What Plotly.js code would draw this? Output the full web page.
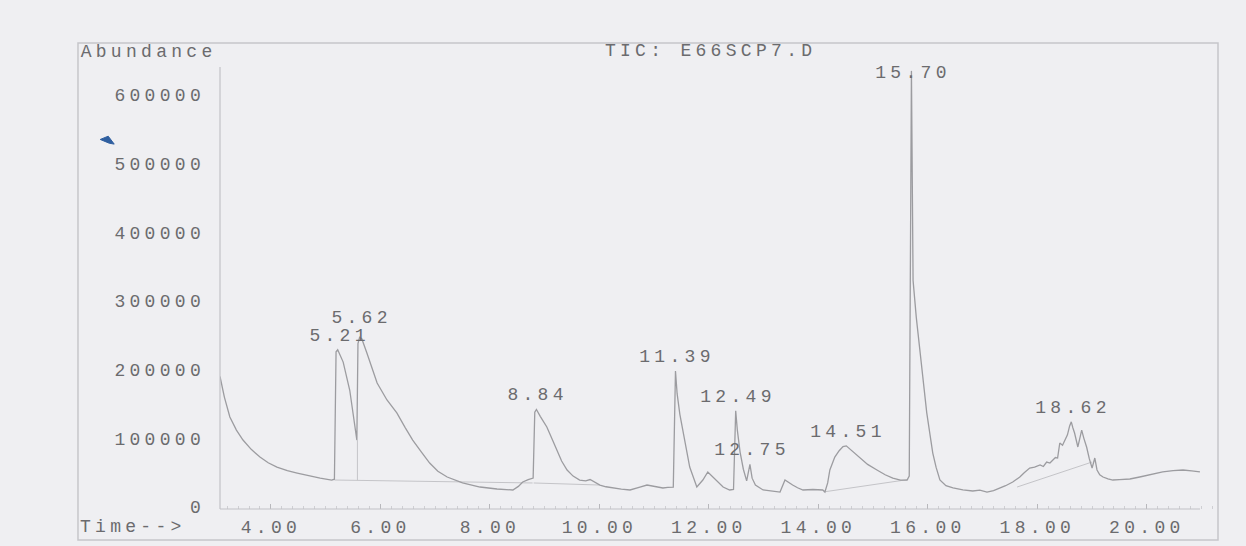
<!DOCTYPE html>
<html>
<head>
<meta charset="utf-8">
<script src="https://cdn.plot.ly/plotly-3.0.1.min.js"></script>
<style>
  html, body { margin: 0; padding: 0; background: #efeff2; }
  #chart { width: 1246px; height: 546px; }
  #chart svg text { letter-spacing: 4.3px; }
</style>
</head>
<body>
<div id="chart"></div>
<script>
// Retention time (min)
const retentionTime = [
  3.07, 3.15, 3.25, 3.37, 3.49, 3.64, 3.80, 3.95, 4.11, 4.30,
  4.48, 4.71, 4.90, 5.11, 5.16, 5.19, 5.22, 5.32, 5.44, 5.57,
  5.59, 5.62, 5.66, 5.75, 5.94, 6.12, 6.30, 6.45, 6.59, 6.75,
  6.90, 7.05, 7.22, 7.50, 7.82, 8.13, 8.42, 8.52, 8.60, 8.70,
  8.79, 8.82, 8.85, 8.92, 9.04, 9.13, 9.22, 9.31, 9.41, 9.52,
  9.64, 9.75, 9.83, 9.92, 10.01, 10.12, 10.25, 10.40, 10.56, 10.65,
  10.74, 10.87, 10.98, 11.08, 11.16, 11.25, 11.35, 11.39, 11.42, 11.47,
  11.53, 11.65, 11.78, 11.89, 11.98, 12.07, 12.16, 12.26, 12.38, 12.45,
  12.49, 12.52, 12.57, 12.63, 12.69, 12.72, 12.75, 12.79, 12.85, 12.99,
  13.15, 13.30, 13.39, 13.46, 13.53, 13.62, 13.72, 13.90, 14.08, 14.12,
  14.17, 14.21, 14.30, 14.38, 14.45, 14.51, 14.58, 14.67, 14.76, 14.90,
  15.07, 15.22, 15.36, 15.50, 15.62, 15.66, 15.70, 15.73, 15.79, 15.85,
  15.92, 15.98, 16.04, 16.09, 16.15, 16.22, 16.33, 16.46, 16.64, 16.82,
  16.95, 17.08, 17.20, 17.32, 17.42, 17.55, 17.62, 17.68, 17.76, 17.86,
  17.95, 18.05, 18.11, 18.17, 18.23, 18.28, 18.33, 18.37, 18.41, 18.46,
  18.50, 18.55, 18.59, 18.62, 18.65, 18.68, 18.74, 18.78, 18.81, 18.85,
  18.90, 18.95, 19.00, 19.05, 19.09, 19.14, 19.20, 19.29, 19.38, 19.50,
  19.69, 19.87, 20.05, 20.29, 20.48, 20.66, 20.82, 20.97
];
// Total ion current abundance
const abundance = [
  190000, 160000, 131000, 112000, 97500, 84000, 72800, 64500, 58200, 53000,
  49500, 45100, 42000, 39300, 40500, 226000, 229000, 211000, 170000, 97500,
  238000, 247000, 245000, 225000, 180500, 155800, 136900, 116000, 97500, 80000,
  64000, 52000, 43700, 35000, 29100, 26200, 24800, 30000, 36400, 40000,
  42200, 138000, 142000, 132000, 116500, 100000, 83000, 67000, 53900, 45000,
  39300, 38000, 40000, 36000, 32000, 29500, 27700, 26000, 24800, 26500,
  29100, 32000, 30000, 28500, 27700, 28500, 29000, 198000, 165000, 135000,
  110000, 58200, 29100, 39300, 51000, 43700, 36000, 29100, 24800, 25500,
  140000, 112000, 80000, 55000, 38000, 50000, 62000, 42000, 32000, 24800,
  23000, 21800, 39300, 35000, 32000, 28000, 24800, 25500, 24800, 21800,
  35000, 53900, 72800, 82000, 88000, 89000, 84000, 77000, 71300, 62000,
  53900, 47000, 42200, 39000, 39300, 45000, 635000, 330000, 275000, 233000,
  180000, 137000, 105000, 78600, 58000, 39300, 31000, 27700, 25000, 23300,
  24500, 21800, 24000, 27700, 31000, 36400, 40000, 43700, 50000, 56800,
  58000, 61200, 59000, 65500, 64000, 68400, 72000, 71300, 93200, 90000,
  97500, 105000, 118000, 124000, 115000, 107700, 87400, 100000, 112000, 100000,
  87400, 70000, 56800, 71300, 53900, 47000, 43700, 41000, 39300, 39800,
  40800, 43700, 47000, 51000, 53000, 53900, 52500, 51000
];
// Labelled peaks
const peakTimes  = [5.21, 5.62, 8.84, 11.39, 12.49, 12.75, 14.51, 15.70, 18.62];
const peakLabels = ["5.21", "5.62", "8.84", "11.39", "12.49", "12.75", "14.51", "15.70", "18.62"];
// Integration baselines (start time, start abundance, end time, end abundance)
const baselineStartT = [5.16, 8.80, 14.10, 17.63];
const baselineStartA = [39300, 35000, 22000, 29100];
const baselineEndT   = [8.78, 10.00, 15.64, 19.00];
const baselineEndA   = [35000, 32000, 40000, 65500];
// Drop line at the 5.21 / 5.62 split
const dropT = [5.58, 5.58];
const dropA = [39000, 97500];
// Axis ticks
const yTicks = [0, 100000, 200000, 300000, 400000, 500000, 600000];
const yTickText = ["0", "100000", "200000", "300000", "400000", "500000", "600000"];
const xTicks = [4, 6, 8, 10, 12, 14, 16, 18, 20];
const xTickText = ["4.00", "6.00", "8.00", "10.00", "12.00", "14.00", "16.00", "18.00", "20.00"];

const FONT = "Courier New, Liberation Mono, monospace";
const TXT = "#6b6b6e";

const bx = [], by = [];
for (let i = 0; i < baselineStartT.length; i++) {
  bx.push(baselineStartT[i], baselineEndT[i], null);
  by.push(baselineStartA[i], baselineEndA[i], null);
}
bx.push(dropT[0], dropT[1], null);
by.push(dropA[0], dropA[1], null);

function peakHeight(t) {
  let best = 0;
  for (let i = 0; i < retentionTime.length; i++) {
    if (Math.abs(retentionTime[i] - t) <= 0.035 && abundance[i] > best) best = abundance[i];
  }
  return best;
}

const traces = [
  { x: bx, y: by, mode: "lines", line: { color: "#c4c4c8", width: 1 }, hoverinfo: "skip", showlegend: false },
  { x: retentionTime, y: abundance, mode: "lines", line: { color: "#9c9ca0", width: 1.3 }, showlegend: false }
];

const annotations = peakTimes.map((t, i) => {
  const special = peakLabels[i] === "15.70";
  const stacked = peakLabels[i] === "5.62";
  return {
    x: t, y: peakHeight(t), xref: "x", yref: "y",
    text: peakLabels[i], showarrow: false,
    xanchor: "center", yanchor: "middle",
    yshift: special ? -2 : (stacked ? 19 : 14),
    xshift: 2,
    font: { family: FONT, size: 18, color: TXT }
  };
});
annotations.push(
  { xref: "paper", yref: "paper", x: -0.0721, y: 0.981, xanchor: "center", yanchor: "middle",
    text: "Abundance", showarrow: false, font: { family: FONT, size: 18, color: TXT } },
  { xref: "paper", yref: "paper", x: 0.491, y: 0.983, xanchor: "center", yanchor: "middle",
    text: "TIC: E66SCP7.D", showarrow: false, font: { family: FONT, size: 18, color: TXT } },
  { xref: "paper", yref: "paper", x: -0.0867, y: -0.038, xanchor: "center", yanchor: "middle",
    text: "Time-->", showarrow: false, font: { family: FONT, size: 18, color: TXT } }
);

const layout = {
  width: 1246, height: 546,
  margin: { l: 220, r: 28, t: 43, b: 37 },
  paper_bgcolor: "#efeff2", plot_bgcolor: "#efeff2",
  font: { family: FONT, size: 18, color: TXT },
  showlegend: false,
  xaxis: {
    range: [3.07, 21.30], tickvals: xTicks, ticktext: xTickText,
    showgrid: false, zeroline: false, showline: false,
    ticks: "inside", ticklen: 5, tickcolor: "#b8b8bc",
    minor: { dtick: 0.2, ticks: "inside", ticklen: 3, tickcolor: "#cfcfd3" },
    tickfont: { family: FONT, size: 18, color: TXT },
    ticklabelstandoff: 5
  },
  yaxis: {
    range: [-2900, 675600], tickvals: yTicks, ticktext: yTickText,
    showgrid: false, zeroline: false, showline: false,
    ticks: "", tickfont: { family: FONT, size: 18, color: TXT },
    ticklabelstandoff: 14
  },
  shapes: [
    { type: "rect", xref: "paper", yref: "paper", x0: -0.1423, x1: 1, y0: -0.0665, y1: 1,
      line: { color: "#c6c6ca", width: 1.5 } },
    { type: "line", xref: "paper", yref: "paper", x0: 0, x1: 0, y0: 0, y1: 0.9485,
      line: { color: "#c2c2c6", width: 1.2 } },
    { type: "line", xref: "paper", yref: "paper", x0: 0, x1: 0.982, y0: 0, y1: 0,
      line: { color: "#c2c2c6", width: 1.2 } },
    { type: "path", xref: "paper", yref: "paper",
      path: "M -0.1200 0.7930 L -0.1120 0.8000 L -0.1060 0.7830 L -0.1110 0.7850 Z",
      fillcolor: "#2f5fa0", line: { color: "#2f5fa0", width: 1 } }
  ],
  annotations: annotations
};

Plotly.newPlot("chart", traces, layout, { staticPlot: true, displayModeBar: false });
</script>
</body>
</html>
